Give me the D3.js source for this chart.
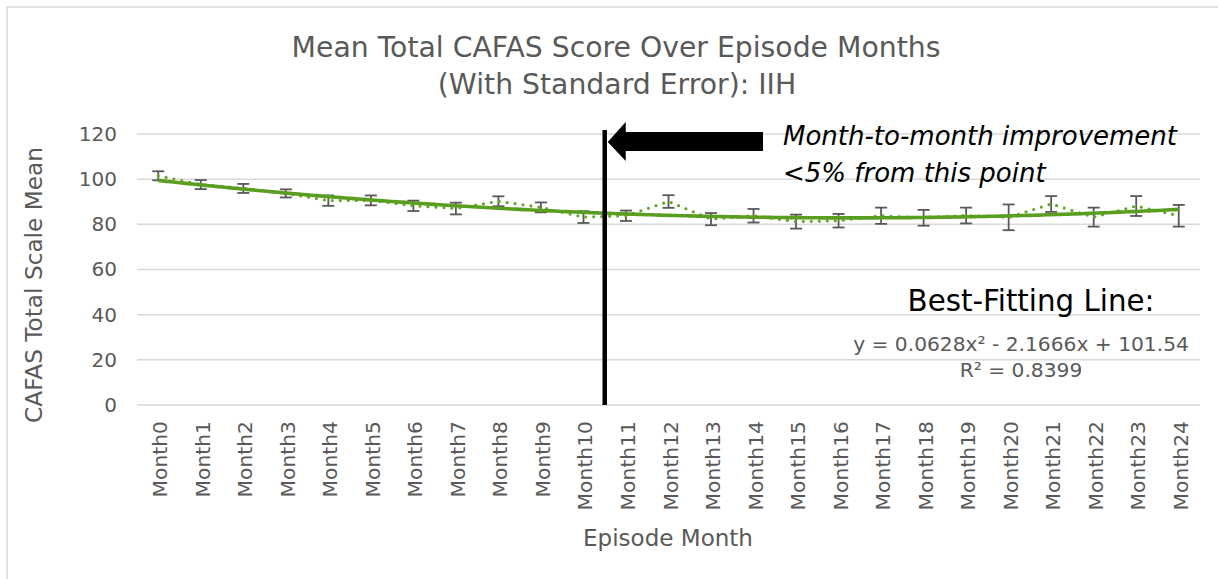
<!DOCTYPE html>
<html>
<head>
<meta charset="utf-8">
<script src="https://cdn.jsdelivr.net/npm/d3@7"></script>
<style>
  html, body { margin: 0; padding: 0; background: #fff; }
  svg { display: block; }
  text { font-family: "DejaVu Sans", sans-serif; }
</style>
</head>
<body>
<svg id="chart" width="1218" height="579"></svg>
<script>
// ---------- data ----------
const months = ["Month0","Month1","Month2","Month3","Month4","Month5","Month6","Month7","Month8","Month9",
  "Month10","Month11","Month12","Month13","Month14","Month15","Month16","Month17","Month18","Month19",
  "Month20","Month21","Month22","Month23","Month24"];
const means = [101.5, 97.6, 95.9, 93.7, 90.5, 90.6, 88.2, 87.0, 90.2, 87.5,
  83.2, 83.8, 90.1, 82.3, 83.8, 81.2, 81.6, 83.8, 82.9, 83.9,
  83.1, 89.0, 83.2, 88.1, 83.8];
const stdErrors = [2.0, 2.0, 2.0, 1.8, 2.3, 2.2, 2.3, 2.6, 2.2, 2.2,
  2.6, 2.3, 2.8, 2.7, 3.0, 3.1, 3.0, 3.6, 3.5, 3.5,
  5.7, 3.5, 4.2, 4.4, 4.8];
const yTicks = [0, 20, 40, 60, 80, 100, 120];
// polynomial trendline coefficients shown on the chart: y = a x^2 + b x + c (x = 1..25)
const trendCoef = [0.0628, -2.1666, 101.54];
const titleLines = ["Mean Total CAFAS Score Over Episode Months", "(With Standard Error): IIH"];
const annotationLines = ["Month-to-month improvement", "<5% from this point"];
const fitLines = ["Best-Fitting Line:", "y = 0.0628x\u00B2 - 2.1666x + 101.54", "R\u00B2 = 0.8399"];
const markerMonth = "Month11";

// ---------- layout ----------
const svg = d3.select("#chart");
const pLeft = 137, pRight = 1200, pTop = 134, pBottom = 405;
const grey = "#595959", gridCol = "#d9d9d9", green = "#5a9e1f";

const x = d3.scaleBand().domain(months).range([pLeft, pRight]).padding(0);
const y = d3.scaleLinear().domain([0, 120]).range([pBottom, pTop]);
const cx = m => x(m) + x.bandwidth() / 2;

function fit(sel, w, maxFs) {
  const len = sel.node().getComputedTextLength();
  const fs = parseFloat(sel.attr("font-size"));
  let nfs = fs * w / len;
  if (maxFs) nfs = Math.min(nfs, maxFs);
  sel.attr("font-size", nfs);
  return sel;
}

// chart border
svg.append("rect").attr("x", 7).attr("y", 7).attr("width", 1240).attr("height", 620)
  .attr("fill", "none").attr("stroke", "#d9d9d9").attr("stroke-width", 1.5);

// gridlines
svg.append("g").selectAll("line").data(yTicks).join("line")
  .attr("x1", pLeft).attr("x2", pRight)
  .attr("y1", d => y(d)).attr("y2", d => y(d))
  .attr("stroke", gridCol).attr("stroke-width", 1.5);

// y axis labels
const yAxis = d3.axisLeft(y).tickValues(yTicks).tickSize(0).tickPadding(20);
const yg = svg.append("g").attr("transform", `translate(${pLeft},0)`).call(yAxis);
yg.select(".domain").remove();
yg.selectAll("text").attr("font-size", 20).attr("fill", grey)
  .attr("font-family", '"DejaVu Sans", sans-serif');

// x axis labels (rotated)
const xAxis = d3.axisBottom(x).tickSize(0).tickPadding(0);
const xg = svg.append("g").attr("transform", `translate(0,${pBottom})`).call(xAxis);
xg.select(".domain").remove();
xg.selectAll("text")
  .attr("font-size", 20.3).attr("fill", grey)
  .attr("font-family", '"DejaVu Sans", sans-serif')
  .attr("text-anchor", "end")
  .attr("dy", null).attr("y", 0)
  .attr("dominant-baseline", "central")
  .attr("transform", "translate(2,16) rotate(-90)");

// error bars
const eb = svg.append("g").attr("stroke", grey).attr("stroke-width", 1.8).attr("fill", "none");
months.forEach((m, i) => {
  const xc = cx(m), yt = y(means[i] + stdErrors[i]), yb = y(means[i] - stdErrors[i]);
  eb.append("line").attr("x1", xc).attr("x2", xc).attr("y1", yt).attr("y2", yb);
  eb.append("line").attr("x1", xc - 6).attr("x2", xc + 6).attr("y1", yt).attr("y2", yt);
  eb.append("line").attr("x1", xc - 6).attr("x2", xc + 6).attr("y1", yb).attr("y2", yb);
});

// dotted data line
const line = d3.line().x((d, i) => cx(months[i])).y(d => y(d));
svg.append("path").datum(means).attr("d", line)
  .attr("fill", "none").attr("stroke", "#62a825").attr("stroke-width", 3.2)
  .attr("stroke-linecap", "round").attr("stroke-dasharray", "0 8");

// trendline (from displayed coefficients)
const xi = d3.scaleLinear().domain([1, months.length]).range([cx(months[0]), cx(months[months.length - 1])]);
const tSamples = d3.range(1, months.length + 0.001, 0.1);
const trend = d3.line().x(t => xi(t)).y(t => y(trendCoef[0] * t * t + trendCoef[1] * t + trendCoef[2]));
svg.append("path").datum(tSamples).attr("d", trend)
  .attr("fill", "none").attr("stroke", green).attr("stroke-width", 3.6);

// vertical marker line
const mx = x(markerMonth);
svg.append("line").attr("x1", mx).attr("x2", mx).attr("y1", 130).attr("y2", pBottom)
  .attr("stroke", "#000").attr("stroke-width", 4.5);

// arrow
svg.append("path")
  .attr("d", `M${mx + 3},142 L${mx + 21},122 L${mx + 21},132 L763,132 L763,151 L${mx + 21},151 L${mx + 21},161 Z`)
  .attr("fill", "#000");

// annotation text
const a1 = svg.append("text").attr("x", 783).attr("y", 145)
  .attr("font-size", 24).attr("font-style", "italic").attr("fill", "#000").text(annotationLines[0]);
fit(a1, 400, 26);
svg.append("text").attr("x", 783).attr("y", 182)
  .attr("font-size", a1.attr("font-size")).attr("font-style", "italic").attr("fill", "#000").text(annotationLines[1]);

// title
const t1 = svg.append("text").attr("x", 616).attr("y", 57).attr("text-anchor", "middle")
  .attr("font-size", 26).attr("fill", grey).text(titleLines[0]);
fit(t1, 649, 28.6);
svg.append("text").attr("x", 617).attr("y", 94).attr("text-anchor", "middle")
  .attr("font-size", t1.attr("font-size")).attr("fill", grey).text(titleLines[1]);

// axis titles
const xt = svg.append("text").attr("x", 668).attr("y", 546).attr("text-anchor", "middle")
  .attr("font-size", 22).attr("fill", grey).text("Episode Month");
fit(xt, 170);
const ytl = svg.append("text").attr("text-anchor", "middle")
  .attr("transform", "translate(42,285) rotate(-90)")
  .attr("font-size", 22).attr("fill", grey).text("CAFAS Total Scale Mean");
fit(ytl, 276);

// best-fit labels
const b1 = svg.append("text").attr("x", 1031).attr("y", 311).attr("text-anchor", "middle")
  .attr("font-size", 24).attr("fill", "#000").text(fitLines[0]);
fit(b1, 247);
const b2 = svg.append("text").attr("x", 1021).attr("y", 351).attr("text-anchor", "middle")
  .attr("font-size", 19).attr("fill", grey).text(fitLines[1]);
fit(b2, 336, 20.4);
svg.append("text").attr("x", 1021).attr("y", 377).attr("text-anchor", "middle")
  .attr("font-size", b2.attr("font-size")).attr("fill", grey).text(fitLines[2]);
</script>
</body>
</html>
